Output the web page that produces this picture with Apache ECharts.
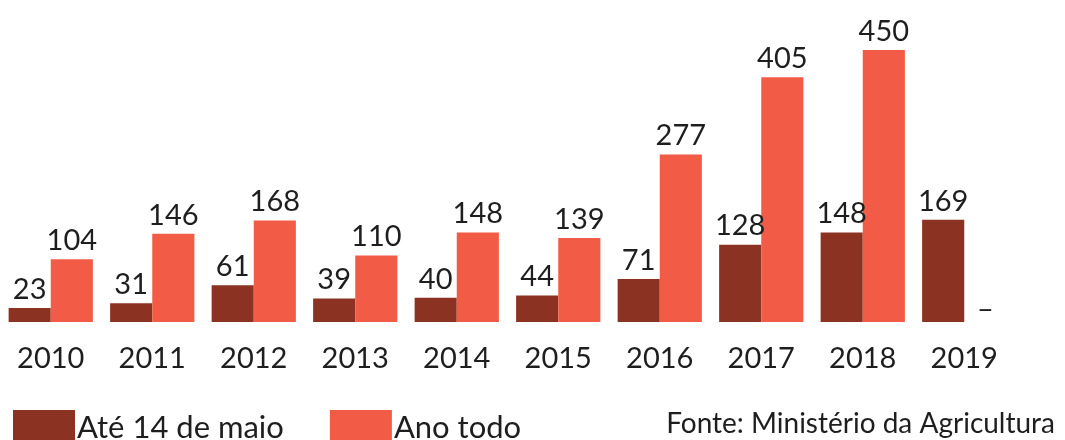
<!DOCTYPE html>
<html>
<head>
<meta charset="utf-8">
<script src="https://cdn.jsdelivr.net/npm/echarts@6/dist/echarts.min.js"></script>
<style>
  html, body { margin: 0; padding: 0; background: #fff; }
  #main { width: 1065px; height: 440px; }
</style>
</head>
<body>
<div id="main"></div>
<script>
const years = ['2010', '2011', '2012', '2013', '2014', '2015', '2016', '2017', '2018', '2019'];
const ateMaio = [23, 31, 61, 39, 40, 44, 71, 128, 148, 169];
const anoTodo = [104, 146, 168, 110, 148, 139, 277, 405, 450, null];

const chart = echarts.init(document.getElementById('main'));

// sem dado no ano todo -> mostra um traço
const anoTodoData = anoTodo.map(function (v) {
  if (v === null) {
    return { value: 0, label: { formatter: '–', offset: [0, 6] } };
  }
  return v;
});

const labelStyle = {
  show: true,
  position: 'top',
  distance: 4,
  fontFamily: 'Lato',
  fontSize: 29,
  color: '#1e1e1e'
};

chart.setOption({
  animation: false,
  textStyle: { fontFamily: 'Lato' },
  grid: { left: 0, top: 50, width: 1015, bottom: 118 },
  legend: {
    left: 8,
    top: 405,
    itemWidth: 62,
    itemHeight: 35,
    itemGap: 46,
    icon: 'rect',
    textStyle: { fontSize: 31, color: '#1e1e1e', fontFamily: 'Lato', padding: [0, 0, 0, -3] },
    data: ['Até 14 de maio', 'Ano todo']
  },
  title: {
    text: 'Fonte: Ministério da Agricultura',
    right: 5,
    top: 405,
    textStyle: { fontSize: 28, fontWeight: 'normal', color: '#1e1e1e', fontFamily: 'Lato' }
  },
  xAxis: {
    type: 'category',
    data: years,
    axisLine: { show: false },
    axisTick: { show: false },
    axisLabel: { margin: 22, fontSize: 29, color: '#1e1e1e', fontFamily: 'Lato' }
  },
  yAxis: {
    type: 'value',
    min: 0,
    max: 450,
    show: false,
    splitLine: { show: false }
  },
  series: [
    {
      name: 'Até 14 de maio',
      type: 'bar',
      data: ateMaio,
      barGap: '0%',
      barCategoryGap: '17%',
      itemStyle: { color: '#8c3222' },
      label: labelStyle
    },
    {
      name: 'Ano todo',
      type: 'bar',
      data: anoTodoData,
      itemStyle: { color: '#f25b45' },
      label: labelStyle
    }
  ]
});
</script>
</body>
</html>
